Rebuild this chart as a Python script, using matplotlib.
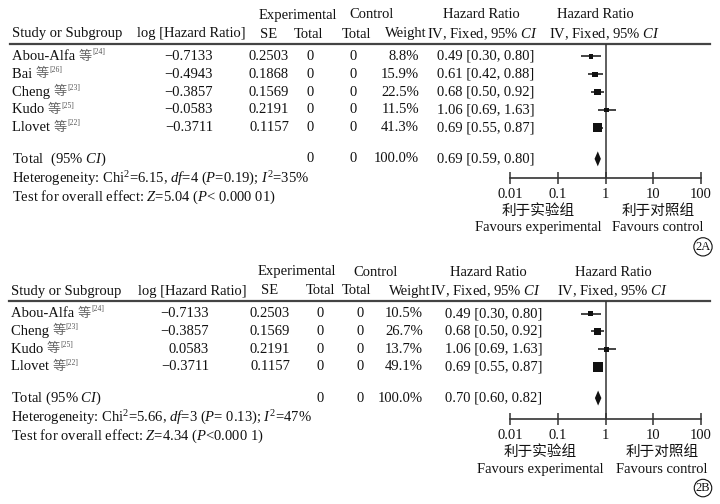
import matplotlib
matplotlib.use('Agg')
import matplotlib.pyplot as plt
from matplotlib.ticker import NullLocator

W, H = 720, 504
plt.rcParams['font.family'] = ['Liberation Serif', 'Noto Sans CJK SC']
plt.rcParams['mathtext.fontset'] = 'custom'
plt.rcParams['mathtext.rm'] = 'Liberation Serif'
plt.rcParams['mathtext.it'] = 'Liberation Serif:italic'
plt.rcParams['mathtext.bf'] = 'Liberation Serif:bold'

# ---------------- data: panel A ----------------
studies_a = ['Abou-Alfa', 'Bai', 'Cheng', 'Kudo', 'Llovet']
refs_a = ['[24]', '[26]', '[23]', '[25]', '[22]']
loghr_a = [-0.7133, -0.4943, -0.3857, -0.0583, -0.3711]
se_a = [0.2503, 0.1868, 0.1569, 0.2191, 0.1157]
exp_total_a = [0, 0, 0, 0, 0]
ctl_total_a = [0, 0, 0, 0, 0]
weight_a = [8.8, 15.9, 22.5, 11.5, 41.3]
hr_a = [0.49, 0.61, 0.68, 1.06, 0.69]
lo_a = [0.30, 0.42, 0.50, 0.69, 0.55]
hi_a = [0.80, 0.88, 0.92, 1.63, 0.87]
pooled_a = [0.69, 0.59, 0.80]
het_a = 'Heterogeneity: Chi$^2$=6.15, $df$=4 ($P$=0.19); $I^2$=35%'
test_a = 'Test for overall effect: $Z$=5.04 ($P$< 0.000 01)'
total_label_a = 'Total  (95% $CI$)'

# ---------------- data: panel B ----------------
studies_b = ['Abou-Alfa', 'Cheng', 'Kudo', 'Llovet']
refs_b = ['[24]', '[23]', '[25]', '[22]']
loghr_b = [-0.7133, -0.3857, 0.0583, -0.3711]
se_b = [0.2503, 0.1569, 0.2191, 0.1157]
exp_total_b = [0, 0, 0, 0]
ctl_total_b = [0, 0, 0, 0]
weight_b = [10.5, 26.7, 13.7, 49.1]
hr_b = [0.49, 0.68, 1.06, 0.69]
lo_b = [0.30, 0.50, 0.69, 0.55]
hi_b = [0.80, 0.92, 1.63, 0.87]
pooled_b = [0.70, 0.60, 0.82]
het_b = 'Heterogeneity: Chi$^2$=5.66, $df$=3 ($P$= 0.13); $I^2$=47%'
test_b = 'Test for overall effect: $Z$=4.34 ($P$<0.000 1)'
total_label_b = 'Total (95% $CI$)'

tick_vals = [0.01, 0.1, 1, 10, 100]
tick_labels = ['0.01', '0.1', '1', '10', '100']

FS = 10.5
TXT = '#111111'
LINE = '#333333'

fig = plt.figure(figsize=(W / 100, H / 100), dpi=100)
bg = fig.add_axes([0, 0, 1, 1])
bg.set_xlim(0, W)
bg.set_ylim(H, 0)
bg.axis('off')


def T(x, y, s, ha='left', fs=FS, color=TXT, **kw):
    return bg.text(x, y, s, ha=ha, va='center', fontsize=fs, color=color, **kw)


def fmt_signed(v):
    return f'{v:.4f}'.replace('-', '\u2212')


def panel(oy, names, refs, loghr, se, et, ct, wts, hr, lo, hi, pooled,
          het, test, total_label, c, tag, axis_extra):
    h1, h2, line_y, row0, pitch = 15 + oy, 34 + oy, 44 + oy, 56.5 + oy, 17.8
    n = len(names)
    rows = [row0 + i * pitch for i in range(n)]
    total_y = row0 + (n + 0.75) * pitch
    het_y = total_y + 20
    test_y = het_y + 18
    axis_y = total_y + 19 + axis_extra

    # headers
    T(c['exp'], h1, 'Experimental', ha='center')
    T(c['ctl'], h1, 'Control', ha='center')
    T(c['hr'], h1, 'Hazard Ratio', ha='center')
    T(c['hr2'], h1, 'Hazard Ratio', ha='center')
    T(c['name'], h2, 'Study or Subgroup')
    T(c['logh'], h2, 'log [Hazard Ratio]', ha='center')
    T(c['se'], h2, 'SE', ha='center')
    T(c['teh'], h2, 'Total', ha='center')
    T(c['tch'], h2, 'Total', ha='center')
    T(c['wh'], h2, 'Weight', ha='center')
    T(c['iv'], h2, 'IV, Fixed, 95% $CI$', ha='center')
    T(c['iv2'], h2, 'IV, Fixed, 95% $CI$', ha='center')
    bg.plot([c['name'] - 2, 710], [line_y, line_y], color='#444444', lw=1.6)

    for i, y in enumerate(rows):
        t1 = T(c['name'], y, names[i] + ' ')
        t2 = bg.annotate('等', xy=(1, 0.5), xycoords=t1, ha='left', va='center',
                         fontsize=9.5, color='#666666')
        bg.annotate(refs[i], xy=(1, 0.85), xycoords=t2, ha='left', va='center',
                    fontsize=5.5, color='#555555')
        T(c['logr'], y, fmt_signed(loghr[i]), ha='right')
        T(c['se'], y, f'{se[i]:.4f}', ha='center')
        T(c['et'], y, str(et[i]), ha='center')
        T(c['ct'], y, str(ct[i]), ha='center')
        T(c['wr'], y, f'{wts[i]:.1f}%', ha='right')
        T(c['ci'], y, f'{hr[i]:.2f} [{lo[i]:.2f}, {hi[i]:.2f}]')

    T(c['name'], total_y, total_label)
    T(c['et'], total_y, str(sum(et)), ha='center')
    T(c['ct'], total_y, str(sum(ct)), ha='center')
    T(c['wr'], total_y, f'{sum(wts):.1f}%', ha='right')
    T(c['ci'], total_y, f'{pooled[0]:.2f} [{pooled[1]:.2f}, {pooled[2]:.2f}]')
    T(c['name'], het_y, het)
    T(c['name'], test_y, test)

    # forest axes
    x0, x1 = 510, 701
    ax = fig.add_axes([x0 / W, 1 - axis_y / H, (x1 - x0) / W, (axis_y - line_y) / H])
    ax.set_xscale('log')
    ax.set_xlim(tick_vals[0], tick_vals[-1])
    ax.set_ylim(axis_y, line_y)
    ax.patch.set_alpha(0)
    for s in ['top', 'left', 'right']:
        ax.spines[s].set_visible(False)
    ax.spines['bottom'].set_color(LINE)
    ax.spines['bottom'].set_linewidth(1.2)
    ax.set_xticks(tick_vals)
    ax.set_xticklabels(tick_labels)
    ax.xaxis.set_minor_locator(NullLocator())
    ax.tick_params(axis='x', direction='inout', length=8, width=1.1, color=LINE,
                   labelsize=FS, labelcolor=TXT, pad=3)
    ax.set_yticks([])
    ax.axvline(1, color=LINE, lw=1.1)
    ax.hlines(rows, lo, hi, color='#111111', lw=1.1)
    ax.scatter(hr, rows, marker='s', s=[w * 1.0 for w in wts], color='#111111',
               zorder=3, linewidths=0)
    dh = 7.5
    ax.fill([pooled[1], pooled[0], pooled[2], pooled[0]],
            [total_y, total_y - dh, total_y, total_y + dh], color='#111111', lw=0)

    cy = axis_y + 33
    T(c['favl'], cy, '利于实验组', ha='center', fs=10.5, family=['Noto Sans CJK SC'])
    T(c['favr'], cy, '利于对照组', ha='center', fs=10.5, family=['Noto Sans CJK SC'])
    T(c['favl'], cy + 17, 'Favours experimental', ha='center')
    T(c['favr'], cy + 17, 'Favours control', ha='center')
    T(703, axis_y + 69, tag, ha='center', fs=9,
      bbox=dict(boxstyle='circle,pad=0.12', fc='white', ec='#111111', lw=0.8))


cols_a = dict(name=12, exp=298, ctl=372, hr=481, hr2=595, logh=191, se=269,
              teh=308, tch=357, wh=406, iv=483, iv2=605, logr=213, et=310, ct=353,
              wr=419, ci=437, favl=538, favr=658)
cols_b = dict(name=11, exp=297, ctl=376, hr=488, hr2=613, logh=192, se=270,
              teh=321, tch=357, wh=410, iv=486, iv2=613, logr=209, et=320, ct=360,
              wr=423, ci=445, favl=540, favr=662)

panel(0, studies_a, refs_a, loghr_a, se_a, exp_total_a, ctl_total_a, weight_a,
      hr_a, lo_a, hi_a, pooled_a, het_a, test_a, total_label_a, cols_a, '2A', 0)
panel(257, studies_b, refs_b, loghr_b, se_b, exp_total_b, ctl_total_b, weight_b,
      hr_b, lo_b, hi_b, pooled_b, het_b, test_b, total_label_b, cols_b, '2B', 2)

fig.savefig('out.png', dpi=100, facecolor='white')
